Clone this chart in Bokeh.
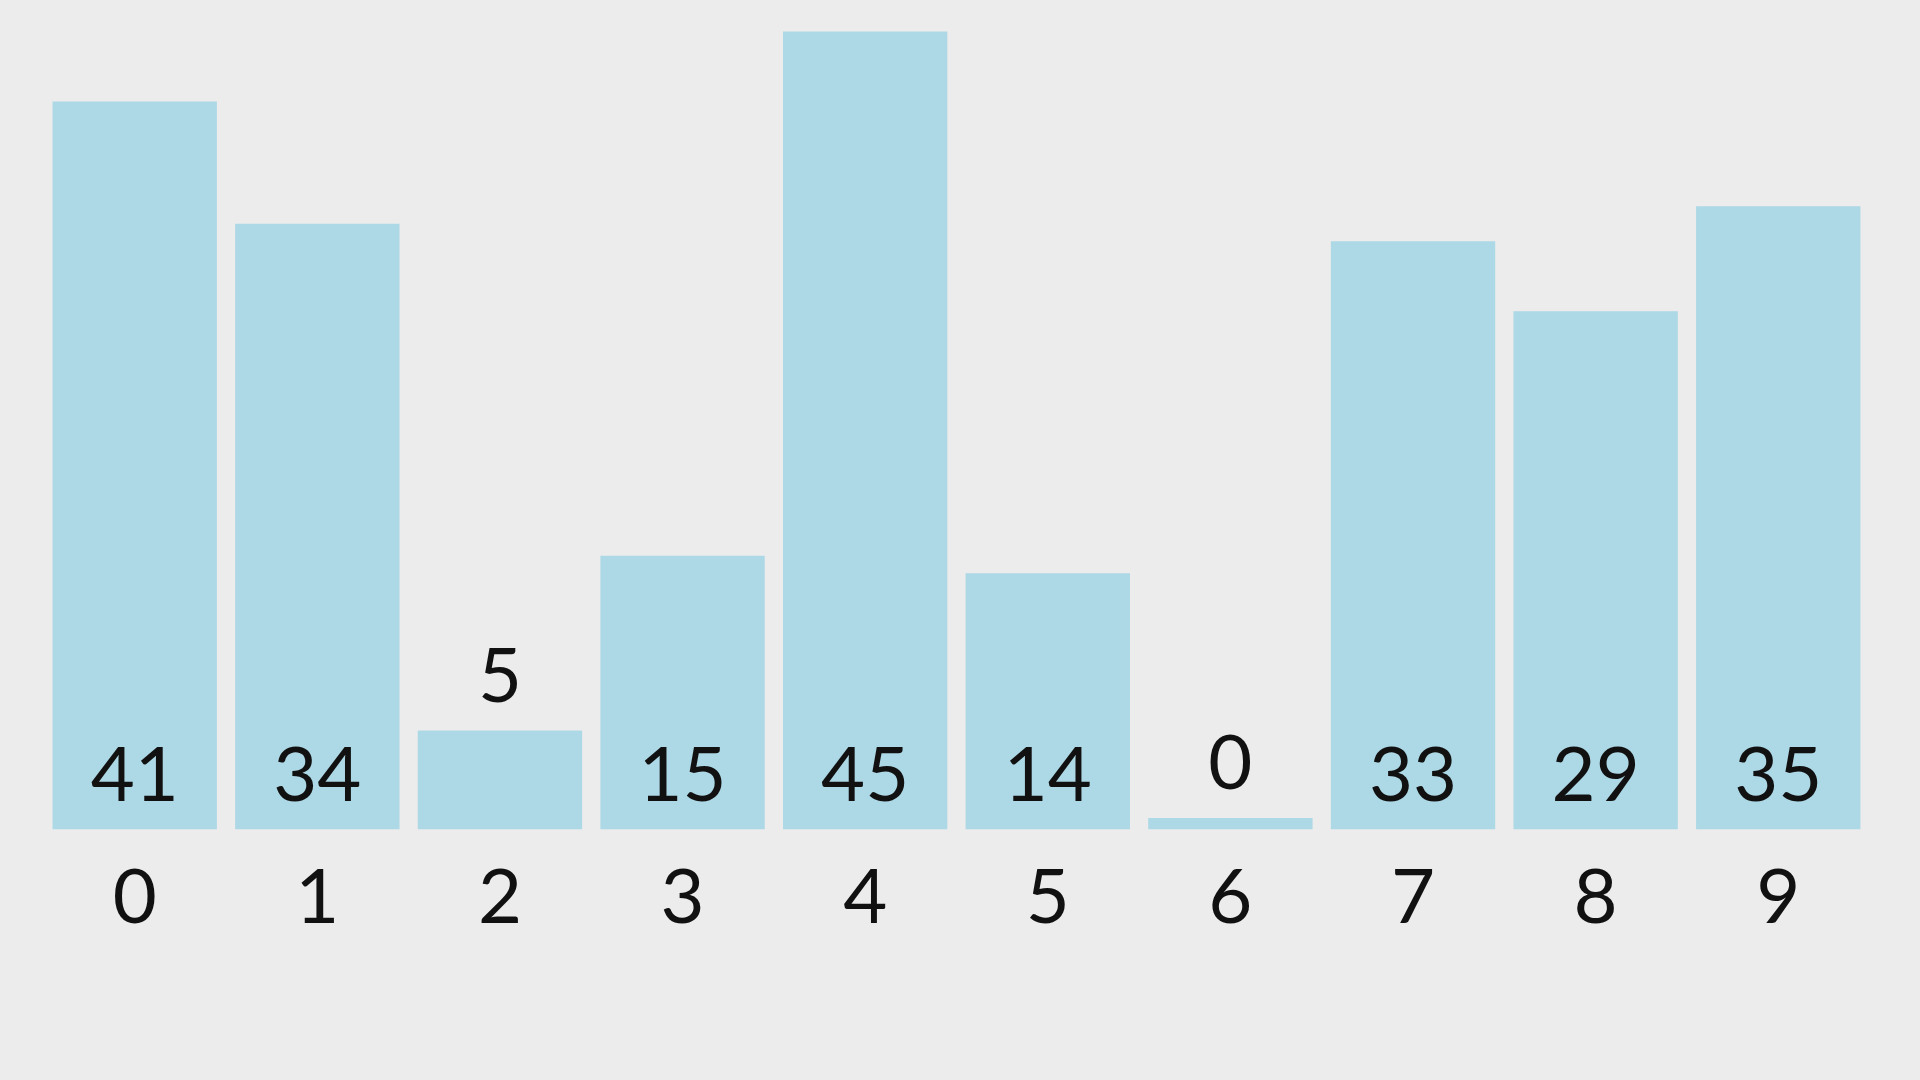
from bokeh.plotting import figure
from bokeh.models import ColumnDataSource, Range1d, FixedTicker
from bokeh.core.properties import value
from bokeh.embed import file_html
from bokeh.resources import INLINE

categories = ["0", "1", "2", "3", "4", "5", "6", "7", "8", "9"]
values = [41, 34, 5, 15, 45, 14, 0, 33, 29, 35]
outside_threshold = 10  # labels of smaller bars sit above the bar

BASE = -0.66  # visual baseline of bars (so a 0 bar is still visible)
BG = "#ececec"
BAR = "#add8e6"
FONT = "Lato"

xs = list(range(len(categories)))
label_y = [v if v < outside_threshold else BASE for v in values]
labels = [str(v) for v in values]

src = ColumnDataSource(dict(x=xs, top=values, bottom=[BASE] * len(values),
                            ly=label_y, lab=labels))

p = figure(width=1920, height=1080, output_backend="svg", toolbar_location=None,
           x_range=Range1d(-0.735, 9.779), y_range=Range1d(BASE, 46.78),
           min_border_left=0, min_border_right=0, min_border_top=0,
           min_border_bottom=251)
p.background_fill_color = BG
p.border_fill_color = BG
p.outline_line_color = None
p.grid.visible = False
p.yaxis.visible = False

p.vbar(x="x", top="top", bottom="bottom", width=0.9, source=src,
       fill_color=BAR, line_color=None)

p.text(x="x", y="ly", text="lab", source=src, y_offset=-56,
       text_align="center", text_baseline="alphabetic",
       text_font=value(FONT), text_font_size="76px", text_color="#111111")

ax = p.xaxis[0]
ax.ticker = FixedTicker(ticks=xs)
ax.major_label_overrides = {i: c for i, c in enumerate(categories)}
ax.axis_line_color = None
ax.major_tick_line_color = None
ax.minor_tick_line_color = None
ax.major_tick_out = 0
ax.major_tick_in = 0
ax.major_label_standoff = 39
ax.major_label_text_font = FONT
ax.major_label_text_font_size = "76px"
ax.major_label_text_color = "#111111"

html = file_html(p, INLINE)
html = html.replace("</head>", "<style>body{background:%s}</style></head>" % BG)
open("out.html", "w").write(html)
